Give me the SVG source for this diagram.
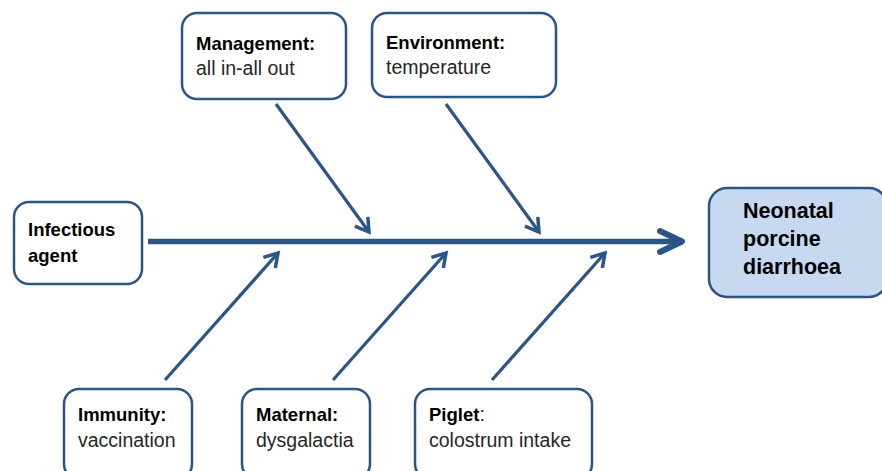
<svg xmlns="http://www.w3.org/2000/svg" width="882" height="471" viewBox="0 0 882 471">
<style>
.box{fill:#ffffff;stroke:#2b5487;stroke-width:2.5}
.main{fill:#c6d9f1;stroke:#2b5487;stroke-width:2.5}
.t{font-family:"Liberation Sans",Arial,sans-serif;font-size:19.5px;fill:#262626}
.b{font-weight:bold;font-size:18.5px;fill:#000}
.big{font-family:"Liberation Sans",Arial,sans-serif;font-size:21.5px;font-weight:bold;fill:#000}
.arr{stroke:#2b5487;stroke-width:3.2;fill:none}
.spine{stroke:#2b5487;stroke-width:5.5;fill:none}
</style>
<defs>
<marker id="ah" markerUnits="userSpaceOnUse" markerWidth="30" markerHeight="30" viewBox="-20 -15 30 30" refX="0" refY="0" orient="auto">
<path d="M-13,-8 L0,0 L-13,8" fill="none" stroke="#2b5487" stroke-width="3.5" stroke-linejoin="miter"/>
</marker>
<marker id="ahb" markerUnits="userSpaceOnUse" markerWidth="40" markerHeight="40" viewBox="-30 -20 40 40" refX="0" refY="0" orient="auto">
<path d="M-23,-10.5 L-1,0 L-23,10.5" fill="none" stroke="#2b5487" stroke-width="6" stroke-linecap="round" stroke-linejoin="round"/>
</marker>
</defs>
<g id="connectors">
<line class="spine" x1="148" y1="241.5" x2="683" y2="241.5" marker-end="url(#ahb)"/>
<line class="arr" x1="276" y1="104" x2="369" y2="232" marker-end="url(#ah)"/>
<line class="arr" x1="446" y1="104" x2="539" y2="232" marker-end="url(#ah)"/>
<line class="arr" x1="165" y1="380" x2="278" y2="253" marker-end="url(#ah)"/>
<line class="arr" x1="333" y1="380" x2="446" y2="253" marker-end="url(#ah)"/>
<line class="arr" x1="492" y1="380" x2="605" y2="253" marker-end="url(#ah)"/>
</g>
<g id="management">
<rect class="box" x="182" y="13" width="164" height="86" rx="15"/>
<text class="t b" x="196" y="50">Management:</text>
<text class="t" x="196" y="75">all in-all out</text>
</g>
<g id="environment">
<rect class="box" x="372" y="13" width="184" height="84" rx="15"/>
<text class="t b" x="386" y="49">Environment:</text>
<text class="t" x="386" y="74">temperature</text>
</g>
<g id="infectious">
<rect class="box" x="14" y="202" width="128" height="82" rx="15"/>
<text class="t b" x="28" y="236">Infectious</text>
<text class="t b" x="28" y="262">agent</text>
</g>
<g id="outcome">
<rect class="main" x="709" y="188" width="178" height="109" rx="18"/>
<text class="big" x="743" y="218">Neonatal</text>
<text class="big" x="743" y="246">porcine</text>
<text class="big" x="743" y="274">diarrhoea</text>
</g>
<g id="immunity">
<rect class="box" x="64" y="389" width="128" height="90" rx="15"/>
<text class="t b" x="78" y="421">Immunity:</text>
<text class="t" x="78" y="447">vaccination</text>
</g>
<g id="maternal">
<rect class="box" x="242" y="389" width="128" height="90" rx="15"/>
<text class="t b" x="256" y="421">Maternal:</text>
<text class="t" x="256" y="447">dysgalactia</text>
</g>
<g id="piglet">
<rect class="box" x="415" y="389" width="177" height="90" rx="15"/>
<text class="t" x="429" y="421"><tspan class="b">Piglet</tspan>:</text>
<text class="t" x="429" y="447">colostrum intake</text>
</g>
</svg>
